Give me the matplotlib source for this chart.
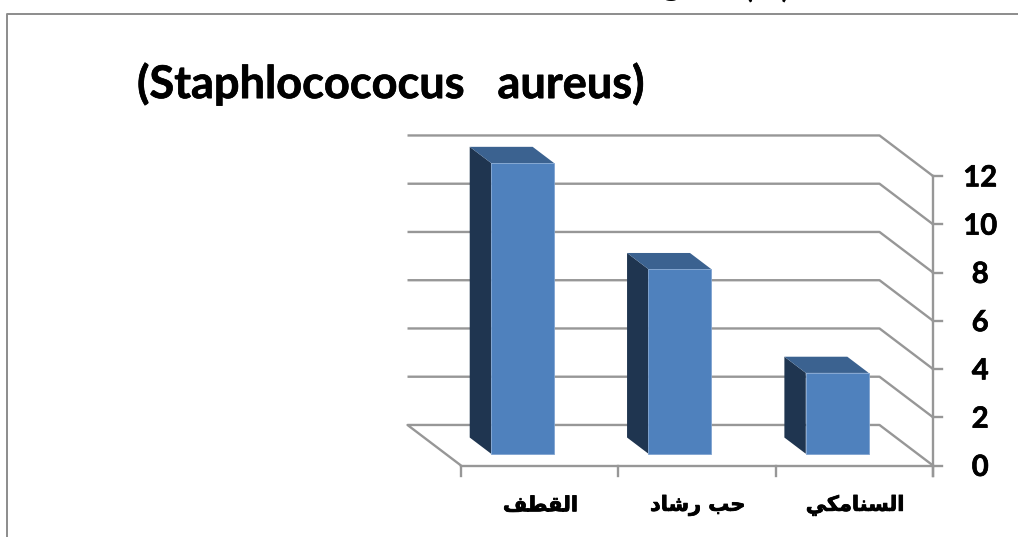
#!/usr/bin/env python3
"""Fake-3D column chart drawn with an oblique offset on a plain axes."""

import matplotlib
matplotlib.use('Agg')
import matplotlib.pyplot as plt
import matplotlib.patheffects as pe
from matplotlib.patches import Polygon

# Arabic labels in visual order, using presentation forms (matplotlib does not shape)
categories = ['\ufed2\ufec4\ufed8\ufedf\ufe8d',
              '\ufea9\ufe8e\ufeb7\ufead \ufe90\ufea3',
              '\ufef2\ufedc\ufee3\ufe8e\ufee8\ufeb4\ufedf\ufe8d']
values = [12.05, 7.65, 3.35]
y_ticks = [0, 2, 4, 6, 8, 10, 12]
title = '(Staphlocococus   aureus)'

W, H = 1018, 537
GREY = '#979797'
FRONT, SIDE, TOP = '#4f81bd', '#1f3550', '#3b6290'

# oblique projection, in data units
DX, DY = -0.34, -1.68           # offset of the back wall
BAR_W = 0.40
BAR_NEAR, BAR_FAR = 0.29, 0.69  # bar depth, as a fraction of the floor


def proj(x, y, d=0.0):
    return x + d * DX, y - d * DY


fig = plt.figure(figsize=(W / 100, H / 100), dpi=100)
ax = fig.add_axes([0, 0, 1, 1])
# category 0..3 spans 461..933 px, value 0..12 spans 465.5..176 px
px_per_cat = (933 - 461) / 3
px_per_val = (465.5 - 176) / 12
ax.set_xlim(-461 / px_per_cat, (W - 461) / px_per_cat)
ax.set_ylim(-(H - 465.5) / px_per_val, 465.5 / px_per_val)
ax.axis('off')

# outer chart frame
fig.add_artist(plt.Line2D([7 / W, 7 / W, 1], [0, 1 - 13.5 / H, 1 - 13.5 / H],
                          color='#8c8c8c', lw=1.4))

# cut-off caption above the frame, only the descenders show (same crop as the reference)
fig.text(668 / W, 1 + 5 / H, '\ufe9e', family='DejaVu Sans', fontweight='bold',
         fontsize=17, ha='center', va='baseline')
fig.text(767 / W, 1 + 2 / H, '(    )', family='Lato', fontweight='bold',
         fontsize=21, ha='center', va='baseline')

# back wall gridlines, running down the side wall to the value axis
for v in y_ticks:
    xb, yb = proj(0, v, 1)
    xr, yr = proj(3, v, 1)
    xs = [xb, xr, 3] if v else [0, xb, xr, 3]
    ys = [yb, yr, v] if v else [0, yb, yr, 0]
    ax.plot(xs, ys, color=GREY, lw=1.7, solid_capstyle='butt', zorder=1)

# floor front edge and value axis
ax.plot([0, 3], [0, 0], color=GREY, lw=1.7, zorder=1)
ax.plot([3, 3], [-0.45, 12], color=GREY, lw=1.7, zorder=1)
for i in range(4):
    ax.plot([i, i], [0, -0.45], color=GREY, lw=1.7, zorder=1)
for v in y_ticks:
    ax.plot([3, 3.055], [v, v], color=GREY, lw=1.7, zorder=1)
    ax.text(3.30, v - 0.1, str(v), family='Lato', fontweight='bold', fontsize=21,
            ha='center', va='center', color='black',
            path_effects=[pe.withStroke(linewidth=0.5, foreground='black')])

# columns
for i, val in enumerate(values):
    cx = i + 0.5 - 0.01
    x0, x1 = cx - BAR_W / 2, cx + BAR_W / 2
    n0 = proj(x0, 0, BAR_NEAR)
    n1 = proj(x1, 0, BAR_NEAR)
    t0 = proj(x0, val, BAR_NEAR)
    t1 = proj(x1, val, BAR_NEAR)
    f0 = proj(x0, 0, BAR_FAR)
    g0 = proj(x0, val, BAR_FAR)
    g1 = proj(x1, val, BAR_FAR)
    ax.add_patch(Polygon([f0, n0, t0, g0], fc=SIDE, ec='none', zorder=3))
    ax.add_patch(Polygon([g0, t0, t1, g1], fc=TOP, ec='none', zorder=3))
    ax.add_patch(Polygon([n0, n1, t1, t0], fc=FRONT, ec='#7fa3d0', lw=0.6, zorder=4))
    ax.text(i + 0.5 + 0.005, -1.65, categories[i], family='DejaVu Sans', fontweight='bold',
            fontsize=15, ha='center', va='center', color='black',
            path_effects=[pe.withStroke(linewidth=0.6, foreground='black')])

fig.text(391 / W, 1 - 84 / H, title, family='Lato', fontweight='bold', fontsize=32.5,
         ha='center', va='center', color='black',
         path_effects=[pe.withStroke(linewidth=0.5, foreground='black')])

fig.savefig('out.png', dpi=100)
